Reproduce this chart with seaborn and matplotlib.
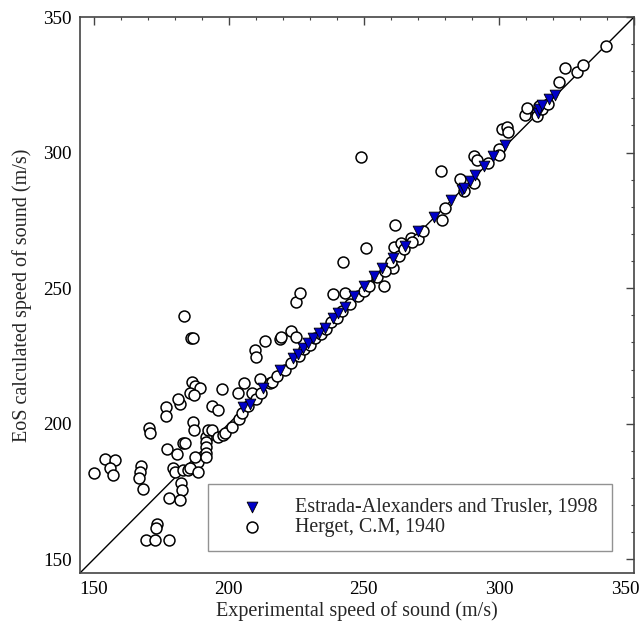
import numpy as np
import pandas as pd
import matplotlib
matplotlib.use("Agg")
import matplotlib.pyplot as plt
import matplotlib.transforms as mtransforms
from matplotlib.ticker import MultipleLocator
import seaborn as sns

# Estrada-Alexanders and Trusler, 1998 (experimental, calculated) in m/s
estrada_exp = [205.4, 207.9, 212.8, 218.9, 223.8, 225.6, 227.5, 229.3, 231.2, 233.6,
               235.5, 238.6, 240.4, 242.9, 246.5, 250.2, 253.9, 256.9, 260.7, 265.3,
               270.2, 276.0, 282.2, 286.5, 287.1, 289.2, 291.0, 294.5, 297.9, 302.2,
               314.3, 314.7, 315.9, 318.4, 320.9]
estrada_eos = [206.2, 207.4, 213.2, 219.9, 224.3, 225.8, 227.9, 229.7, 231.6, 233.4,
               235.3, 239.0, 240.8, 243.0, 247.2, 250.9, 254.4, 257.5, 261.1, 265.4,
               271.0, 276.3, 282.7, 286.3, 287.0, 289.4, 291.9, 294.9, 298.6, 302.9,
               314.5, 315.9, 317.7, 319.6, 321.4]

# Herget, C.M, 1940
herget_exp = [150.0, 154.4, 158.1, 156.0, 157.1, 167.6, 167.3, 166.7, 168.5,
              170.4, 171.0, 176.9, 176.9, 182.1, 181.4, 177.2, 180.9, 183.0,
              179.6, 180.2, 177.8, 182.4, 182.7, 182.1, 173.5, 173.2, 169.5, 172.9, 177.8,
              183.6, 186.0, 187.0, 186.4, 187.6, 189.4, 185.8, 187.2,
              187.0, 187.2, 193.7, 196.2, 197.4, 203.5, 205.6, 208.5, 211.5, 215.2,
              209.7, 210.3, 213.4, 218.9, 222.9, 219.5, 225.1, 224.8, 226.5,
              238.6, 242.9, 242.5, 249.0, 250.9, 261.6, 261.3, 261.0, 257.6, 263.7, 267.4, 269.9,
              278.5, 279.1, 285.5, 290.8, 292.0, 290.8, 300.0, 301.0, 303.0, 303.4,
              309.6, 310.4, 315.0, 314.0, 322.3, 324.3, 328.8, 331.3, 339.5,
              183.3, 185.1, 187.0, 188.8, 187.6, 183.9, 185.8, 188.8,
              191.7, 191.7, 191.7, 191.7, 191.7, 192.5, 193.7, 196.2, 198.0, 198.6, 201.1, 203.9,
              205.0, 207.0, 210.0, 212.0, 216.0, 218.0, 221.0, 223.0, 226.0, 228.0, 230.0,
              232.0, 234.0, 236.0, 238.0, 240.0, 242.0, 245.0, 248.0, 250.0, 252.0, 255.0,
              258.0, 260.0, 263.0, 265.0, 268.0, 272.0, 280.0, 287.0, 296.0, 300.0,
              314.0, 316.0, 318.0]
herget_eos = [182.0, 186.9, 186.7, 183.6, 181.2, 184.6, 182.2, 180.1, 176.1,
              198.4, 196.5, 206.2, 203.0, 207.4, 209.1, 190.7, 188.9, 192.9,
              183.6, 182.4, 172.6, 178.1, 175.6, 172.0, 163.1, 161.5, 157.2, 157.2, 157.2,
              239.6, 231.6, 231.6, 215.6, 213.8, 213.2, 211.3, 210.7,
              200.5, 197.6, 206.4, 205.2, 212.9, 211.3, 215.0, 211.3, 216.6, 215.0,
              227.3, 224.8, 230.4, 231.3, 234.4, 232.0, 232.0, 244.8, 248.4,
              248.0, 248.4, 259.5, 298.4, 265.0, 273.4, 265.2, 257.5, 250.9, 266.7, 268.5, 268.2,
              293.1, 275.0, 290.3, 298.9, 297.4, 288.8, 301.4, 308.7, 309.5, 307.5,
              314.0, 316.5, 317.3, 314.5, 326.2, 331.1, 329.6, 332.2, 339.2,
              183.0, 183.0, 183.6, 186.1, 187.9, 192.9, 183.6, 182.4,
              195.2, 193.3, 191.5, 189.3, 187.8, 197.8, 197.8, 195.3, 195.8, 196.5, 199.0, 201.7,
              204.0, 206.5, 209.0, 211.5, 215.5, 217.5, 220.0, 222.5, 225.0, 227.5, 229.0,
              231.5, 233.0, 235.0, 237.5, 239.0, 241.5, 244.0, 247.0, 249.0, 251.0, 254.0,
              256.5, 259.5, 262.0, 264.5, 267.0, 271.0, 279.5, 286.0, 296.0, 299.0,
              313.5, 316.0, 318.0]

major_ticks = [150, 200, 250, 300, 350]
diag = [145, 350]

sns.set_style("white")
plt.rcParams["font.family"] = ["Liberation Serif", "DejaVu Serif"]

herget = pd.DataFrame({"exp": herget_exp, "eos": herget_eos})
estrada = pd.DataFrame({"exp": estrada_exp, "eos": estrada_eos})

fig = plt.figure(figsize=(6.43, 6.30), dpi=100)
ax = fig.add_axes([0.1244, 0.0905, 0.8616, 0.8825])

ax.plot(diag, diag, color="black", lw=1.0, zorder=1)
sns.scatterplot(data=herget, x="exp", y="eos", ax=ax, marker="o", s=62,
                facecolor="white", edgecolor="black", linewidth=1.1,
                label="Herget, C.M, 1940", zorder=2)
sns.scatterplot(data=estrada, x="exp", y="eos", ax=ax, marker="v", s=60,
                color="#0000c8", edgecolor="black", linewidth=0.6,
                label="Estrada-Alexanders and Trusler, 1998", zorder=3)

ax.set_xlim(145, 350)
ax.set_ylim(145, 350)
ax.set_xticks(major_ticks)
ax.set_yticks(major_ticks)
ax.xaxis.set_minor_locator(MultipleLocator(10))
ax.yaxis.set_minor_locator(MultipleLocator(10))
ax.tick_params(which="both", direction="in", top=True, right=True,
               labelsize=13.8, colors="#444444", labelcolor="black")
ax.tick_params(which="major", length=5.5, width=1, pad=6)
ax.tick_params(which="minor", length=2.5, width=0.8)
for s in ax.spines.values():
    s.set_color("#444444")
    s.set_linewidth(1.2)

ax.set_xlabel("Experimental speed of sound (m/s)", fontsize=14.5, labelpad=2)
ax.set_ylabel("EoS calculated speed of sound (m/s)", fontsize=14.5, labelpad=8)

# last x tick label sits against the figure edge; nudge it left a little
last = ax.xaxis.get_major_ticks()[-1].label1
last.set_transform(last.get_transform() +
                   mtransforms.ScaledTranslation(-6 / 72, 0, fig.dpi_scale_trans))

handles, labels = ax.get_legend_handles_labels()
leg = ax.legend(handles[::-1], labels[::-1], loc="lower right", fontsize=14.4,
                frameon=True, fancybox=False, edgecolor="#777777",
                borderpad=0.7, handlelength=3.0, handletextpad=0.65,
                labelspacing=0.05, borderaxespad=1.1)
leg.get_frame().set_linewidth(1.0)

fig.savefig("out.png", dpi=100)
